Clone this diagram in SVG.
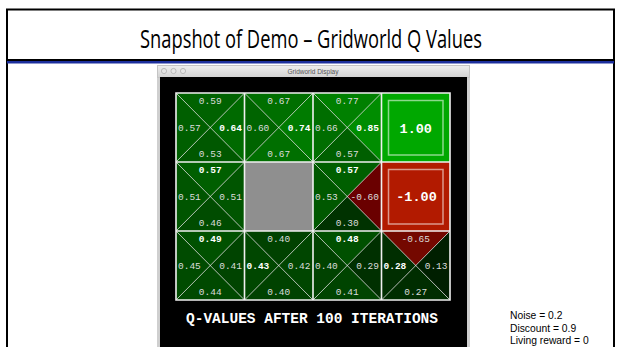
<svg xmlns="http://www.w3.org/2000/svg" width="621" height="347" viewBox="0 0 621 347">
<style>
.q{font-family:"Liberation Mono",monospace;font-size:9.5px;fill:#dcdcdc}
.b{font-weight:bold;fill:#ffffff}
.m{text-anchor:middle}
.e{text-anchor:end}
.diag{stroke:#ffffff;stroke-opacity:0.7;stroke-width:1;fill:none}
.cellb{fill:none;stroke:#f0f0f0;stroke-width:1.6}
.term{font-family:"Liberation Mono",monospace;font-size:13.5px;font-weight:bold;fill:#ffffff;text-anchor:middle}
.inner{fill:none;stroke:#ffffff;stroke-opacity:0.55;stroke-width:1.5}
.note{font-family:"Liberation Sans",Arial,sans-serif;font-size:10.3px;fill:#000000}
</style>
<defs>
<linearGradient id="tb" x1="0" y1="0" x2="0" y2="1">
<stop offset="0" stop-color="#eeeeee"/>
<stop offset="1" stop-color="#d2d2d2"/>
</linearGradient>
</defs>
<rect width="621" height="347" fill="#ffffff"/>
<g id="slide-frame">
<path d="M7,347 V9.5 H614 V347" fill="none" stroke="#000000" stroke-width="2"/>
<rect x="7" y="59" width="607" height="2" fill="#000000"/>
<rect x="7" y="61" width="607" height="2.5" fill="#1c2f9c"/>
</g>
<g id="title">
<text x="311" y="48" text-anchor="middle" font-family="'Open Sans','Noto Sans',sans-serif" font-size="25" textLength="342" lengthAdjust="spacingAndGlyphs" fill="#000000">Snapshot of Demo – Gridworld Q Values</text>
</g>
<g id="window">
<rect x="157" y="65" width="313" height="282" fill="#cfcfcf"/>
<rect x="157.5" y="65.5" width="312" height="12" fill="url(#tb)" stroke="#c4c4c4" stroke-width="1"/>
<circle cx="164" cy="71" r="2.6" fill="#e4e4e4" stroke="#a8a8a8" stroke-width="0.7"/>
<circle cx="173.5" cy="71" r="2.6" fill="#e4e4e4" stroke="#a8a8a8" stroke-width="0.7"/>
<circle cx="183" cy="71" r="2.6" fill="#e4e4e4" stroke="#a8a8a8" stroke-width="0.7"/>
<text x="313" y="73.5" text-anchor="middle" font-family="'Liberation Sans',Arial,sans-serif" font-size="6.5" fill="#555555">Gridworld Display</text>
<rect x="160" y="77" width="307" height="270" fill="#000000"/>
</g>
<g id="cell-0-0">
<polygon points="176,93 244.5,93 210.25,127.5" fill="#006200"/>
<polygon points="176,162 244.5,162 210.25,127.5" fill="#005800"/>
<polygon points="176,93 176,162 210.25,127.5" fill="#005f00"/>
<polygon points="244.5,93 244.5,162 210.25,127.5" fill="#006a00"/>
<path class="diag" d="M176,93 L244.5,162 M244.5,93 L176,162"/>
<text class="q m" x="210.25" y="103.5">0.59</text>
<text class="q m" x="210.25" y="157">0.53</text>
<text class="q" x="178" y="130.5">0.57</text>
<text class="q b e" x="242" y="130.5">0.64</text>
</g>
<g id="cell-1-0">
<polygon points="244.5,93 313,93 278.75,127.5" fill="#006f00"/>
<polygon points="244.5,162 313,162 278.75,127.5" fill="#006f00"/>
<polygon points="244.5,93 244.5,162 278.75,127.5" fill="#006400"/>
<polygon points="313,93 313,162 278.75,127.5" fill="#007b00"/>
<path class="diag" d="M244.5,93 L313,162 M313,93 L244.5,162"/>
<text class="q m" x="278.75" y="103.5">0.67</text>
<text class="q m" x="278.75" y="157">0.67</text>
<text class="q" x="246.5" y="130.5">0.60</text>
<text class="q b e" x="310.5" y="130.5">0.74</text>
</g>
<g id="cell-2-0">
<polygon points="313,93 381.5,93 347.25,127.5" fill="#008000"/>
<polygon points="313,162 381.5,162 347.25,127.5" fill="#005f00"/>
<polygon points="313,93 313,162 347.25,127.5" fill="#006e00"/>
<polygon points="381.5,93 381.5,162 347.25,127.5" fill="#008d00"/>
<path class="diag" d="M313,93 L381.5,162 M381.5,93 L313,162"/>
<text class="q m" x="347.25" y="103.5">0.77</text>
<text class="q m" x="347.25" y="157">0.57</text>
<text class="q" x="315" y="130.5">0.66</text>
<text class="q b e" x="379" y="130.5">0.85</text>
</g>
<g id="cell-3-0">
<rect x="381.5" y="93" width="68.5" height="69" fill="#00a800"/>
<rect class="inner" x="388.5" y="100.5" width="54.5" height="54.5"/>
<text class="term" x="415.75" y="132.5">1.00</text>
</g>
<g id="cell-0-1">
<polygon points="176,162 244.5,162 210.25,196.5" fill="#005f00"/>
<polygon points="176,231 244.5,231 210.25,196.5" fill="#004c00"/>
<polygon points="176,162 176,231 210.25,196.5" fill="#005500"/>
<polygon points="244.5,162 244.5,231 210.25,196.5" fill="#005500"/>
<path class="diag" d="M176,162 L244.5,231 M244.5,162 L176,231"/>
<text class="q b m" x="210.25" y="172.5">0.57</text>
<text class="q m" x="210.25" y="226">0.46</text>
<text class="q" x="178" y="199.5">0.51</text>
<text class="q e" x="242" y="199.5">0.51</text>
</g>
<g id="cell-1-1">
<rect x="244.5" y="162" width="68.5" height="69" fill="#8f8f8f"/>
</g>
<g id="cell-2-1">
<polygon points="313,162 381.5,162 347.25,196.5" fill="#005f00"/>
<polygon points="313,231 381.5,231 347.25,196.5" fill="#003200"/>
<polygon points="313,162 313,231 347.25,196.5" fill="#005800"/>
<polygon points="381.5,162 381.5,231 347.25,196.5" fill="#6a0000"/>
<path class="diag" d="M313,162 L381.5,231 M381.5,162 L313,231"/>
<text class="q b m" x="347.25" y="172.5">0.57</text>
<text class="q m" x="347.25" y="226">0.30</text>
<text class="q" x="315" y="199.5">0.53</text>
<text class="q e" x="379" y="199.5">-0.60</text>
</g>
<g id="cell-3-1">
<rect x="381.5" y="162" width="68.5" height="69" fill="#b21a00"/>
<rect class="inner" x="388.5" y="169.5" width="54.5" height="54.5"/>
<text class="term" x="416.5" y="201">-1.00</text>
</g>
<g id="cell-0-2">
<polygon points="176,231 244.5,231 210.25,265.5" fill="#005100"/>
<polygon points="176,300 244.5,300 210.25,265.5" fill="#004900"/>
<polygon points="176,231 176,300 210.25,265.5" fill="#004b00"/>
<polygon points="244.5,231 244.5,300 210.25,265.5" fill="#004400"/>
<path class="diag" d="M176,231 L244.5,300 M244.5,231 L176,300"/>
<text class="q b m" x="210.25" y="241.5">0.49</text>
<text class="q m" x="210.25" y="295">0.44</text>
<text class="q" x="178" y="268.5">0.45</text>
<text class="q e" x="242" y="268.5">0.41</text>
</g>
<g id="cell-1-2">
<polygon points="244.5,231 313,231 278.75,265.5" fill="#004200"/>
<polygon points="244.5,300 313,300 278.75,265.5" fill="#004200"/>
<polygon points="244.5,231 244.5,300 278.75,265.5" fill="#004700"/>
<polygon points="313,231 313,300 278.75,265.5" fill="#004600"/>
<path class="diag" d="M244.5,231 L313,300 M313,231 L244.5,300"/>
<text class="q m" x="278.75" y="241.5">0.40</text>
<text class="q m" x="278.75" y="295">0.40</text>
<text class="q b" x="246.5" y="268.5">0.43</text>
<text class="q e" x="310.5" y="268.5">0.42</text>
</g>
<g id="cell-2-2">
<polygon points="313,231 381.5,231 347.25,265.5" fill="#005000"/>
<polygon points="313,300 381.5,300 347.25,265.5" fill="#004400"/>
<polygon points="313,231 313,300 347.25,265.5" fill="#004200"/>
<polygon points="381.5,231 381.5,300 347.25,265.5" fill="#003000"/>
<path class="diag" d="M313,231 L381.5,300 M381.5,231 L313,300"/>
<text class="q b m" x="347.25" y="241.5">0.48</text>
<text class="q m" x="347.25" y="295">0.41</text>
<text class="q" x="315" y="268.5">0.40</text>
<text class="q e" x="379" y="268.5">0.29</text>
</g>
<g id="cell-3-2">
<polygon points="381.5,231 450,231 415.75,265.5" fill="#740800"/>
<polygon points="381.5,300 450,300 415.75,265.5" fill="#002d00"/>
<polygon points="381.5,231 381.5,300 415.75,265.5" fill="#002e00"/>
<polygon points="450,231 450,300 415.75,265.5" fill="#001f00"/>
<path class="diag" d="M381.5,231 L450,300 M450,231 L381.5,300"/>
<text class="q m" x="415.75" y="241.5">-0.65</text>
<text class="q m" x="415.75" y="295">0.27</text>
<text class="q b" x="383.5" y="268.5">0.28</text>
<text class="q e" x="447.5" y="268.5">0.13</text>
</g>
<g id="grid-lines">
<path class="cellb" d="M176,93 H450 V300 H176 Z M176,162 H450 M176,231 H450 M244.5,93 V300 M313,93 V300 M381.5,93 V300"/>
</g>
<g id="caption">
<text x="186" y="323" font-family="'Liberation Mono',monospace" font-size="14.5" font-weight="bold" fill="#ffffff" textLength="252" lengthAdjust="spacingAndGlyphs">Q-VALUES AFTER 100 ITERATIONS</text>
</g>
<g id="params">
<text class="note" x="510" y="319">Noise = 0.2</text>
<text class="note" x="510" y="332">Discount = 0.9</text>
<text class="note" x="510" y="344">Living reward = 0</text>
</g>
</svg>
